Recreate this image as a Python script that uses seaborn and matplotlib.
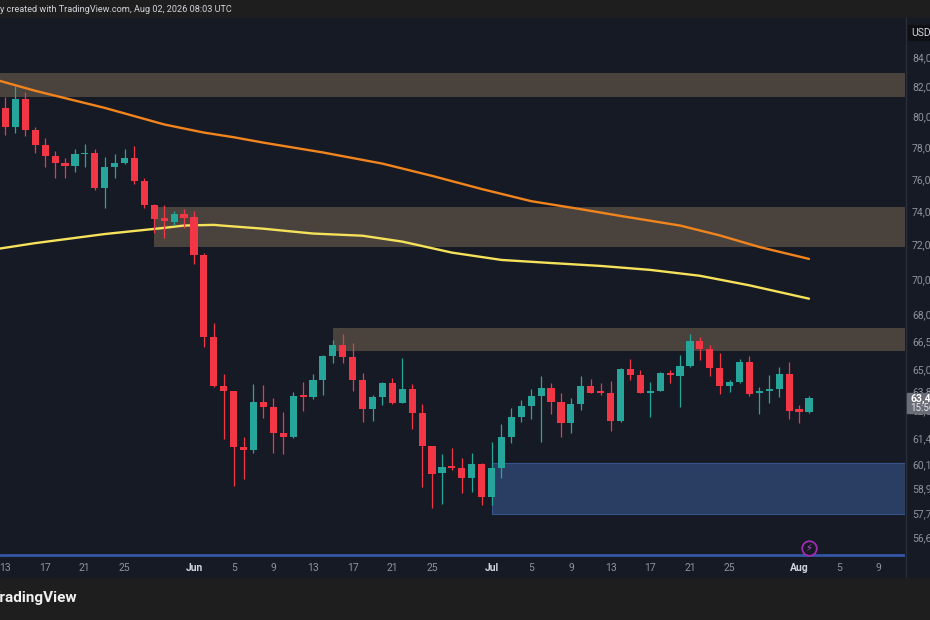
import numpy as np
import pandas as pd
import matplotlib
matplotlib.use("Agg")
import matplotlib.pyplot as plt
import matplotlib.transforms as mtransforms
from matplotlib.patches import Rectangle
import seaborn as sns

# daily candles, day 0 = May 13 2026
opens = [80530, 79290, 81130, 79100, 78130, 77420, 76970, 76780, 77550, 77610,
         75440, 76710, 76970, 77290, 75880, 74380, 73590, 73350, 73820, 73650,
         71370, 66720, 64090, 63830, 60930, 60780, 63250, 62990, 61660, 61450,
         63570, 63510, 64410, 65700, 66290, 65640, 64410, 62890, 63510, 64250,
         63200, 63930, 62680, 60980, 59670, 59960, 59910, 59430, 60100, 58520,
         59910, 61450, 62480, 63040, 63570, 63990, 63250, 62170, 63150, 64090,
         63770, 63720, 62270, 65000, 64680, 63720, 63830, 64790, 64630, 65160,
         66500, 66070, 65050, 64090, 64310, 65370, 63720, 63830, 63930, 64730,
         62890, 62730]
highs = [81270, 82000, 81600, 79290, 78580, 77740, 77290, 77870, 78190, 77870,
         77360, 77550, 77870, 78060, 76060, 74440, 74380, 74000, 74120, 74000,
         71490, 67500, 64730, 63850, 61450, 64200, 64150, 63460, 62730, 63770,
         64310, 64730, 65740, 66560, 66890, 66390, 64790, 63620, 64310, 64520,
         65590, 64200, 63150, 61000, 60620, 60880, 60410, 60670, 60150, 61190,
         62120, 62940, 63360, 63930, 64630, 64250, 63720, 63460, 64630, 64470,
         64250, 64360, 65050, 65540, 64950, 64310, 64830, 64950, 65750, 66890,
         66720, 66290, 65860, 64410, 65540, 65700, 64040, 64680, 65110, 65370,
         63100, 63570]
lows = [78780, 78900, 78710, 77610, 76710, 76060, 76060, 76450, 76710, 75310,
        74190, 76060, 76900, 75690, 74190, 72710, 72410, 73180, 73000, 70860,
        66180, 64040, 61350, 59040, 59380, 60670, 62430, 60670, 60620, 61400,
        62780, 63410, 63620, 65320, 65320, 63830, 62220, 62270, 63100, 63150,
        63180, 61860, 59000, 57990, 58180, 59810, 58710, 58760, 58090, 58090,
        59430, 61140, 62220, 62380, 61190, 62630, 61450, 61660, 62840, 63700,
        63620, 61760, 62220, 64410, 63700, 62480, 63800, 64250, 62990, 65110,
        65480, 64630, 63670, 63770, 64250, 63570, 62630, 63200, 63510, 62380,
        62170, 62700]
closes = [79290, 81130, 79100, 78130, 77420, 76970, 76780, 77550, 77610, 75440,
          76710, 76970, 77290, 75880, 74380, 73530, 73410, 73820, 73590, 71370,
          66720, 64090, 63830, 60930, 60780, 63250, 62990, 61660, 61450, 63570,
          63510, 64410, 65700, 66290, 65640, 64410, 62890, 63510, 64250, 63200,
          63930, 62680, 60980, 59620, 59960, 59910, 59430, 60100, 58520, 59910,
          61450, 62480, 63040, 63570, 63990, 63250, 62170, 63150, 64090, 63720,
          63720, 62270, 65000, 64680, 63720, 63830, 64790, 64680, 65160, 66500,
          66070, 65050, 64090, 64310, 65370, 63670, 63830, 63930, 64730, 62780,
          62730, 63460]

# moving averages
slow_days = [-1, 3, 10, 16, 20, 23, 26, 32, 38, 43, 48, 53, 58, 62, 68, 72, 76, 81]
slow_vals = [82450, 81700, 80560, 79470, 78940, 78640, 78290, 77660, 76950, 76180,
             75360, 74610, 74120, 73710, 73130, 72540, 71850, 71150]
fast_days = [-1, 3, 10, 16, 18, 21, 22, 26, 31, 36, 40, 45, 50, 55, 60, 65, 70, 75, 81]
fast_vals = [71720, 72080, 72620, 72990, 73130, 73170, 73120, 72940, 72650, 72520,
             72170, 71520, 71090, 70910, 70740, 70510, 70170, 69620, 68860]

# zones: (start day, low, high)
zone_starts = [-5, 15, 33]
zone_lows = [81270, 71830, 65970]
zone_highs = [82910, 74250, 67220]
demand_start, demand_low, demand_high = 49, 57700, 60150
support_line = 55760

price_ticks = [84000, 82000, 80000, 78000, 76000, 74000, 72000, 70000, 68000, 66500,
               65000, 63800, 62800, 61400, 60100, 58900, 57700, 56600]
tick_days = [0, 4, 8, 12, 19, 23, 27, 31, 35, 39, 43, 49, 53, 57, 61, 65, 69, 73, 80, 84, 88]
tick_labels = ["13", "17", "21", "25", "Jun", "5", "9", "13", "17", "21", "25",
               "Jul", "5", "9", "13", "17", "21", "25", "Aug", "5", "9"]
last_price = "63,457"

BG = "#161a25"
RED = "#f23645"
GREEN = "#26a69a"

sns.set_theme(style="dark", rc={"axes.facecolor": BG, "figure.facecolor": "#1e1e1e",
                                "axes.grid": False})
plt.rcParams["font.family"] = ["Roboto", "DejaVu Sans"]

W, H = 930, 620
fig = plt.figure(figsize=(W / 100, H / 100), dpi=100)
fig.add_artist(Rectangle((0, 1 - 577 / H), 1, 559 / H, transform=fig.transFigure,
                         color=BG, zorder=-10))
ax = fig.add_axes([0, 63 / H, 905 / W, 538 / H])
ax.set_yscale("log")

df = pd.DataFrame({"day": np.arange(len(opens)), "open": opens, "high": highs,
                   "low": lows, "close": closes})
up = df["close"] >= df["open"]
colors = np.where(up, GREEN, RED)

# zones
for s, lo, hi in zip(zone_starts, zone_lows, zone_highs):
    ax.add_patch(Rectangle((s, lo), 200, hi - lo, color="#4a433d", lw=0, zorder=1))
ax.add_patch(Rectangle((demand_start, demand_low), 200, demand_high - demand_low,
                       facecolor="#2a3e63", edgecolor="#36548a", lw=0.8, zorder=1))
ax.axhline(support_line, color="#3556a6", lw=2, zorder=2)

# moving averages
sns.lineplot(x=slow_days, y=slow_vals, ax=ax, color="#f2841d", lw=1.7, zorder=2)
sns.lineplot(x=fast_days, y=fast_vals, ax=ax, color="#f5e15a", lw=1.7, zorder=2)

# candles
ax.vlines(df["day"], df["low"], df["high"], colors=colors, lw=0.9, zorder=3)
body_lo = df[["open", "close"]].min(axis=1)
body_h = np.maximum((df["close"] - df["open"]).abs(), 90)
ax.bar(df["day"], body_h, bottom=body_lo, width=0.72, color=colors, lw=0, zorder=4)

ax.set_xlim(-0.554, 90.68)
ax.set_ylim(55680, 86670)
ax.set_xlabel("")
ax.set_ylabel("")
for sp in ax.spines.values():
    sp.set_visible(False)

ax.yaxis.tick_right()
ax.set_yticks(price_ticks, [f"{p:,}" for p in price_ticks])
ax.yaxis.set_minor_locator(matplotlib.ticker.NullLocator())
ax.tick_params(axis="y", length=0, pad=5, labelsize=7.5, labelcolor="#8f929b")
ax.set_xticks(tick_days, tick_labels)
ax.tick_params(axis="x", length=0, pad=4, labelsize=7.5, labelcolor="#8f929b")
for t in ax.get_xticklabels():
    if t.get_text() in ("Jun", "Jul", "Aug"):
        t.set_color("#d1d4dc")
        t.set_fontweight("bold")

# event marker
trans = mtransforms.blended_transform_factory(ax.transData, ax.transAxes)
ax.plot([81], [0.0167], transform=trans, marker="o", ms=10.5, mfc=BG, mec="#a02cb0",
        mew=1.3, clip_on=False, zorder=6)
ax.text(81, 0.0167, "⚡", transform=trans, ha="center", va="center", fontsize=7,
        color="#c04ad0", family=["DejaVu Sans"], zorder=7)

# separators
fig.add_artist(plt.Line2D([906 / W, 906 / W], [1 - 577 / H, 1 - 18 / H],
                          color="#2a2e39", lw=1, transform=fig.transFigure))

# price axis labels
fig.add_artist(Rectangle((908 / W, 1 - 40 / H), 22 / W, 15 / H, transform=fig.transFigure,
                         color="#0e1015", zorder=5))
fig.text(911 / W, 1 - 32.5 / H, "USD", color="#d1d4dc", fontsize=7.5, va="center", zorder=6)
fig.add_artist(Rectangle((907 / W, 1 - 413 / H), 23 / W, 20 / H, transform=fig.transFigure,
                         color="#6a6d78", zorder=5))
fig.text(910 / W, 1 - 399 / H, last_price, color="white", fontsize=7.5, va="center",
         fontweight="bold", zorder=6)
fig.text(910 / W, 1 - 408 / H, "15:56", color="#e8e8ec", fontsize=7, va="center", zorder=6)

# header and footer
fig.text(232 / W, 1 - 10 / H, "y created with TradingView.com, Aug 02, 2026 08:03 UTC",
         ha="right", va="center", color="#d1d4dc", fontsize=6.6)
fig.text(77 / W, 1 - 598 / H, "TradingView", ha="right", va="center", color="#f0f0f0",
         fontsize=11, fontweight="bold")

fig.savefig("out.png", dpi=100, facecolor=fig.get_facecolor())
